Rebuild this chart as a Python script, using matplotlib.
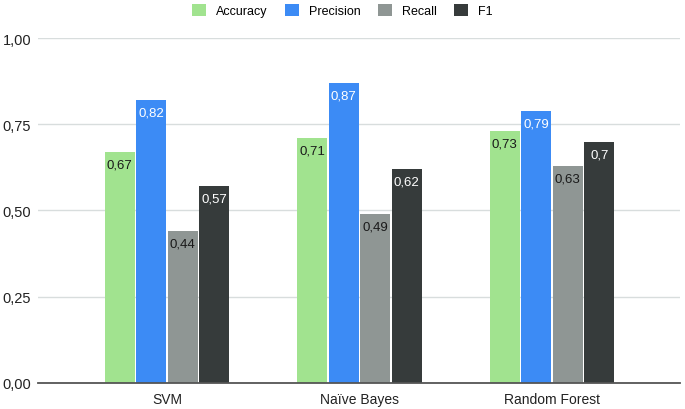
import matplotlib
matplotlib.use("Agg")
import matplotlib.pyplot as plt
import numpy as np
from matplotlib.ticker import FuncFormatter

plt.rcParams['font.family'] = ['Liberation Sans', 'DejaVu Sans']

# data
models = ['SVM', 'Naïve Bayes', 'Random Forest']
metrics = ['Accuracy', 'Precision', 'Recall', 'F1']
accuracy = [0.67, 0.71, 0.73]
precision = [0.82, 0.87, 0.79]
recall = [0.44, 0.49, 0.63]
f1 = [0.57, 0.62, 0.70]

series = [accuracy, precision, recall, f1]
colors = ['#a1e38f', '#3c8bf5', '#8f9694', '#363b3b']
label_colors = ['#1a1a1a', 'white', '#1a1a1a', 'white']

fig = plt.figure(figsize=(6.85, 4.10), dpi=100)
ax = fig.add_axes([0.0555, 0.0646, 0.9372, 0.8391])

x = np.arange(len(models))
step = 0.1636
width = 0.156
offsets = (np.arange(len(metrics)) - 1.5) * step

for i, (vals, c) in enumerate(zip(series, colors)):
    bars = ax.bar(x + offsets[i], vals, width=width, color=c, label=metrics[i], zorder=3)
    for b, v in zip(bars, vals):
        txt = f"{v:g}".replace('.', ',')
        ax.annotate(txt, (b.get_x() + b.get_width() / 2, v), xytext=(0, -9),
                    textcoords='offset points', ha='center', va='center',
                    fontsize=9.5, color=label_colors[i], zorder=4)

ax.set_xlim(-0.67, 2.665)
ax.set_ylim(0, 1.0)
ax.set_yticks([0, 0.25, 0.5, 0.75, 1.0])
ax.yaxis.set_major_formatter(FuncFormatter(lambda v, p: f"{v:.2f}".replace('.', ',')))
ax.set_xticks(x)
ax.set_xticklabels(models)

ax.grid(axis='y', color='#d8dddd', linewidth=1, zorder=0)
for s in ['top', 'right', 'left']:
    ax.spines[s].set_visible(False)
ax.spines['bottom'].set_color('#555555')
ax.spines['bottom'].set_linewidth(1.3)
ax.spines['bottom'].set_zorder(5)
ax.tick_params(axis='both', length=0, colors='#222222')
ax.tick_params(axis='x', pad=7, labelsize=10)
ax.tick_params(axis='y', pad=5, labelsize=10.5)

fig.legend(loc='upper center', bbox_to_anchor=(0.5, 1.016), ncol=4, frameon=False,
           fontsize=9, handlelength=1.1, handleheight=1.1, handletextpad=0.8,
           columnspacing=1.4)

fig.savefig('out.png', dpi=100)
